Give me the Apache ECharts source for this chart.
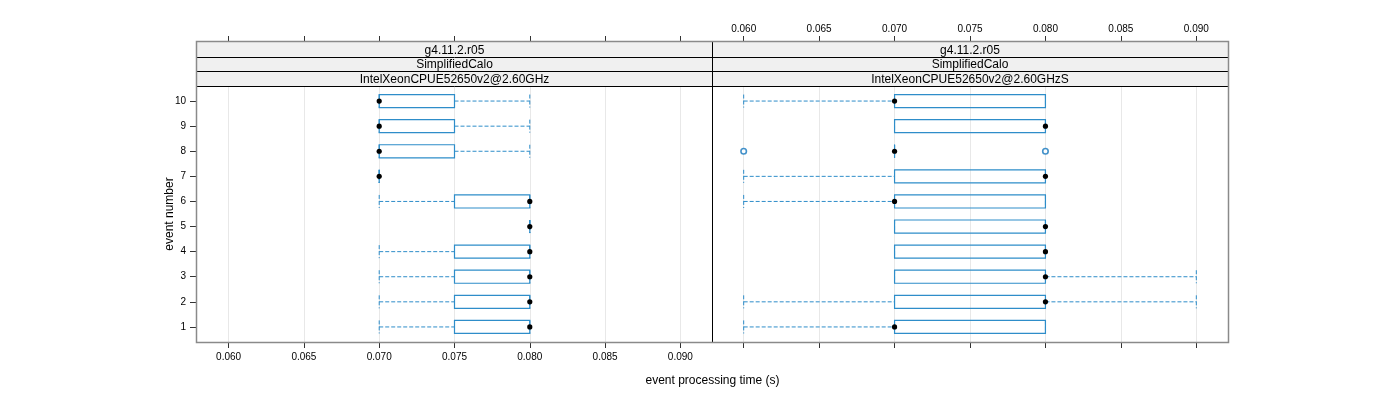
<!DOCTYPE html>
<html>
<head>
<meta charset="utf-8">
<script src="https://cdn.jsdelivr.net/npm/echarts@6/dist/echarts.min.js"></script>
<style>
html,body{margin:0;padding:0;background:#fff;}
#chart{width:1400px;height:400px;}
</style>
</head>
<body>
<div id="chart"></div>
<script>
// ---- data ----
const events = [1, 2, 3, 4, 5, 6, 7, 8, 9, 10];
const xTicks = [0.060, 0.065, 0.070, 0.075, 0.080, 0.085, 0.090];
const stripLevel1 = 'g4.11.2.r05';
const stripLevel2 = 'SimplifiedCalo';
const panelNames = ['IntelXeonCPUE52650v2@2.60GHz', 'IntelXeonCPUE52650v2@2.60GHzS'];

// left panel (GHz)
const leftLow  = [0.070, 0.070, 0.070, 0.070, 0.080, 0.070, 0.070, 0.070, 0.070, 0.070];
const leftQ1   = [0.075, 0.075, 0.075, 0.075, 0.080, 0.075, 0.070, 0.070, 0.070, 0.070];
const leftMed  = [0.080, 0.080, 0.080, 0.080, 0.080, 0.080, 0.070, 0.070, 0.070, 0.070];
const leftQ3   = [0.080, 0.080, 0.080, 0.080, 0.080, 0.080, 0.070, 0.075, 0.075, 0.075];
const leftHigh = [0.080, 0.080, 0.080, 0.080, 0.080, 0.080, 0.070, 0.080, 0.080, 0.080];
const leftOutliers = [];

// right panel (GHzS)
const rightLow  = [0.060, 0.060, 0.070, 0.070, 0.070, 0.060, 0.060, 0.070, 0.070, 0.060];
const rightQ1   = [0.070, 0.070, 0.070, 0.070, 0.070, 0.070, 0.070, 0.070, 0.070, 0.070];
const rightMed  = [0.070, 0.080, 0.080, 0.080, 0.080, 0.070, 0.080, 0.070, 0.080, 0.070];
const rightQ3   = [0.080, 0.080, 0.080, 0.080, 0.080, 0.080, 0.080, 0.070, 0.080, 0.080];
const rightHigh = [0.080, 0.090, 0.090, 0.080, 0.080, 0.080, 0.080, 0.070, 0.080, 0.080];
const rightOutliers = [[0.060, 8], [0.080, 8]];

// ---- layout ----
const FONT = '"Liberation Sans", Arial, sans-serif';
const BOX = '#2e8dc9';
const PT = '#1577bd';
const L0 = 197, MID = 712, R1 = 1228, TOP = 86, BOT = 342, STRIP_TOP = 42;
const XMIN = 0.0579, XMAX = 0.0921;

function rows(low, q1, med, q3, high) {
  return events.map((e, i) => [e, low[i], q1[i], med[i], q3[i], high[i]]);
}

function renderBox(params, api) {
  const y = api.value(0);
  const pl = api.coord([api.value(1), y]);
  const p1 = api.coord([api.value(2), y]);
  const pm = api.coord([api.value(3), y]);
  const p3 = api.coord([api.value(4), y]);
  const ph = api.coord([api.value(5), y]);
  const cy = pm[1];
  const h = api.size([0, 1])[1] * 0.52;
  const t = cy - h / 2, b = cy + h / 2;
  const dash = { stroke: BOX, lineWidth: 1, lineDash: [4, 2], fill: null };
  return {
    type: 'group',
    children: [
      { type: 'line', shape: { x1: pl[0], y1: cy, x2: p1[0], y2: cy }, style: dash },
      { type: 'line', shape: { x1: p3[0], y1: cy, x2: ph[0], y2: cy }, style: dash },
      { type: 'line', shape: { x1: pl[0], y1: t, x2: pl[0], y2: b }, style: dash },
      { type: 'line', shape: { x1: ph[0], y1: t, x2: ph[0], y2: b }, style: dash },
      { type: 'polygon', shape: { points: [[p1[0], t], [p3[0], t], [p3[0], b], [p1[0], b]] },
        style: { stroke: BOX, lineWidth: 1.2, fill: null } },
      { type: 'circle', shape: { cx: pm[0], cy: cy, r: 2.6 }, style: { fill: '#000' } }
    ]
  };
}

function xAxisCfg(gridIndex, position, showLabel) {
  return {
    type: 'value', gridIndex, position, min: XMIN, max: XMAX,
    offset: position === 'top' ? (TOP - STRIP_TOP) : 0,
    axisLine: { show: false },
    axisTick: { show: true, inside: false, length: 6, customValues: xTicks, lineStyle: { color: '#333' } },
    axisLabel: { show: showLabel, customValues: xTicks, formatter: v => v.toFixed(3),
      fontFamily: FONT, fontSize: 10, color: '#000', margin: position === 'top' ? 8 : 10 },
    splitLine: { show: position === 'bottom', lineStyle: { color: '#e8e8e8', width: 1 } }
  };
}

const option = {
  animation: false,
  backgroundColor: '#fff',
  grid: [
    { left: L0, right: 1400 - MID, top: TOP, bottom: 400 - BOT, show: false },
    { left: MID, right: 1400 - R1, top: TOP, bottom: 400 - BOT, show: false }
  ],
  xAxis: [
    xAxisCfg(0, 'bottom', true),
    xAxisCfg(1, 'bottom', false),
    xAxisCfg(0, 'top', false),
    xAxisCfg(1, 'top', true)
  ],
  yAxis: [
    { type: 'value', gridIndex: 0, min: 0.4, max: 10.6,
      axisLine: { show: false },
      axisTick: { show: true, length: 7, customValues: events, lineStyle: { color: '#333' } },
      axisLabel: { customValues: events, fontFamily: FONT, fontSize: 10, color: '#000', margin: 11 },
      splitLine: { show: false } },
    { type: 'value', gridIndex: 1, min: 0.4, max: 10.6,
      axisLine: { show: false }, axisTick: { show: false }, axisLabel: { show: false },
      splitLine: { show: false } }
  ],
  series: [
    { type: 'custom', xAxisIndex: 0, yAxisIndex: 0, renderItem: renderBox,
      encode: { x: [1, 2, 3, 4, 5], y: 0 },
      data: rows(leftLow, leftQ1, leftMed, leftQ3, leftHigh), z: 5 },
    { type: 'custom', xAxisIndex: 1, yAxisIndex: 1, renderItem: renderBox,
      encode: { x: [1, 2, 3, 4, 5], y: 0 },
      data: rows(rightLow, rightQ1, rightMed, rightQ3, rightHigh), z: 5 },
    { type: 'scatter', xAxisIndex: 0, yAxisIndex: 0, data: leftOutliers,
      symbol: 'circle', symbolSize: 5.5, itemStyle: { color: '#fff', borderColor: PT, borderWidth: 1.6 }, z: 6 },
    { type: 'scatter', xAxisIndex: 1, yAxisIndex: 1, data: rightOutliers,
      symbol: 'circle', symbolSize: 5.5, itemStyle: { color: '#fff', borderColor: PT, borderWidth: 1.6 }, z: 6 }
  ],
  graphic: []
};

// strips and borders
const sh = (TOP - STRIP_TOP) / 3;
const panels = [[L0, MID], [MID, R1]];
const g = [];
panels.forEach((p, i) => {
  const labels = [stripLevel1, stripLevel2, panelNames[i]];
  labels.forEach((txt, k) => {
    const y0 = STRIP_TOP + k * sh;
    g.push({ type: 'rect', shape: { x: p[0], y: y0, width: p[1] - p[0], height: sh },
      style: { fill: '#f0f0f0', stroke: null }, z: 10 });
    g.push({ type: 'text', x: (p[0] + p[1]) / 2, y: y0 + sh / 2 + 1,
      style: { text: txt, fontFamily: FONT, fontSize: 12, fill: '#000', align: 'center', verticalAlign: 'middle' }, z: 12 });
  });
  [1, 2, 3].forEach(k => {
    const yy = Math.round(STRIP_TOP + k * sh) + 0.5;
    g.push({ type: 'line', shape: { x1: p[0], y1: yy, x2: p[1], y2: yy },
      style: { stroke: '#000', lineWidth: 1 }, z: 13 });
  });
});
g.push({ type: 'line', shape: { x1: MID + 0.5, y1: STRIP_TOP, x2: MID + 0.5, y2: BOT },
  style: { stroke: '#000', lineWidth: 1 }, z: 13 });
g.push({ type: 'rect', shape: { x: L0 - 0.5, y: STRIP_TOP - 0.5, width: R1 - L0 + 1, height: BOT - STRIP_TOP + 1 },
  style: { fill: null, stroke: '#8a8a8a', lineWidth: 1.5 }, z: 14 });
g.push({ type: 'text', x: (L0 + R1) / 2, y: 381,
  style: { text: 'event processing time (s)', fontFamily: FONT, fontSize: 12, fill: '#000', align: 'center', verticalAlign: 'middle' }, z: 12 });
g.push({ type: 'text', x: 170, y: (TOP + BOT) / 2, rotation: Math.PI / 2,
  style: { text: 'event number', fontFamily: FONT, fontSize: 12, fill: '#000', align: 'center', verticalAlign: 'middle' }, z: 12 });
option.graphic = g;

const chart = echarts.init(document.getElementById('chart'), null, { renderer: 'canvas' });
chart.setOption(option);
</script>
</body>
</html>
